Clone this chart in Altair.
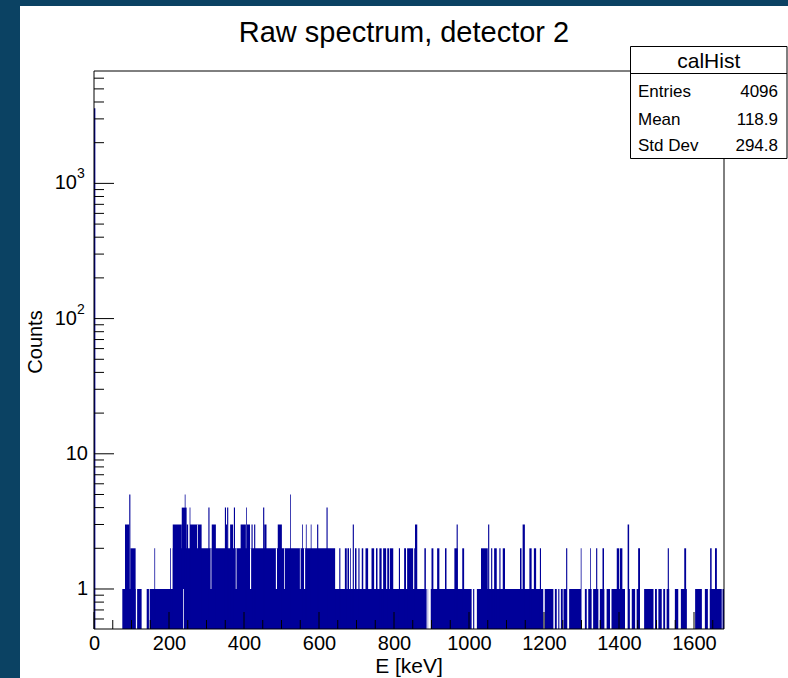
import altair as alt
import pandas as pd

# ---------------- data ----------------
X_MAX = 1680.0
Y_MIN, Y_MAX = 0.506, 6780.0

# channel at zero (big spike)
zero_start = [0.0]
zero_end = [3.6]
zero_count = [3600]

# count = 1 regions
lvl1_start = [75.5, 115, 140.5, 148.5]
lvl1_end = [111, 127, 146.5, 1680]

# count = 2 regions
lvl2_start = [97, 161, 203, 210, 654, 669, 676, 683, 696, 705, 714, 724, 740, 752, 761, 771,
              782, 789, 813, 827, 835, 854, 881, 900, 915, 936, 961, 982, 1032, 1059, 1067,
              1081, 1090, 1136, 1161, 1173, 1189, 1259, 1298, 1323, 1339, 1356, 1394, 1402,
              1451, 1530, 1574, 1643, 1656]
lvl2_end = [111, 163, 205, 643, 657, 674, 680, 685, 700, 708, 718, 731, 747, 756, 767, 779,
            787, 798, 816, 832, 851, 859, 885, 905, 921, 940, 970, 987, 1050, 1062, 1074,
            1084, 1096, 1140, 1167, 1179, 1192, 1262, 1300, 1325, 1342, 1360, 1400, 1409,
            1456, 1533, 1579, 1647, 1661]

# count = 3 regions
lvl3_start = [82.7, 210, 247, 256, 314, 352, 363, 391, 408, 420, 427, 454, 490, 555, 565,
              578, 595, 690, 856, 967, 1051, 1143, 1423]
lvl3_end = [94, 234, 251, 287, 325, 355, 371, 405, 416, 423, 430, 460, 501, 557, 567,
            580, 598, 693, 862, 970, 1054, 1149, 1427]

# count = 4 regions
lvl4_start = [234, 255, 305, 349, 355, 373, 406, 451, 620]
lvl4_end = [247, 257, 308, 352, 358, 376, 408, 454, 623]

# count = 5 regions
lvl5_start = [94, 242, 523]
lvl5_end = [97, 244, 525]

# empty / lower channels inside filled regions: start, end, upper count, lower count
gap_start = [275, 311, 378, 416, 485, 507, 549, 560, 238,
             887, 891, 1007, 1014, 1198, 1225, 1234, 1241, 1250, 1262, 1300, 1314, 1327,
             1345, 1361, 1376, 1416, 1429, 1443, 1456, 1492, 1501, 1514, 1523, 1534, 1558,
             1581, 1621, 1637, 1674]
gap_end = [277, 313, 380, 419, 488, 509, 551, 563, 240,
           890, 898, 1011, 1021, 1202, 1229, 1238, 1245, 1252, 1267, 1309, 1318, 1331,
           1349, 1367, 1380, 1423, 1434, 1447, 1467, 1496, 1505, 1518, 1527, 1549, 1565,
           1603, 1629, 1642, 1676]
gap_top = [3, 2, 2, 2, 2, 2, 2, 2, 1] + [1] * 30
gap_bottom = [2, 1, 1, 1, 1, 1, 1, 1, Y_MIN] + [Y_MIN] * 30

# axis ticks / labels
x_major = [0, 200, 400, 600, 800, 1000, 1200, 1400, 1600]
x_minor = [50, 100, 150, 250, 300, 350, 450, 500, 550, 650, 700, 750, 850, 900, 950,
           1050, 1100, 1150, 1250, 1300, 1350, 1450, 1500, 1550, 1650]
y_major = [1, 10, 100, 1000]
y_minor = [0.6, 0.7, 0.8, 0.9, 2, 3, 4, 5, 6, 7, 8, 9, 20, 30, 40, 50, 60, 70, 80, 90,
           200, 300, 400, 500, 600, 700, 800, 900, 2000, 3000, 4000, 5000, 6000]
y_label_base = ["1", "10", "10", "10"]
y_label_exp = ["", "", "2", "3"]

title_text = "Raw spectrum, detector 2"
x_title = "E [keV]"
y_title = "Counts"
stat_header = "calHist"
stat_names = ["Entries", "Mean", "Std Dev"]
stat_values = ["4096", "118.9", "294.8"]

# ---------------- build tables ----------------
rows = []
for s, e in zip(lvl1_start, lvl1_end):
    rows.append((s, e, 1))
for s, e in zip(lvl2_start, lvl2_end):
    rows.append((s, e, 2))
for s, e in zip(lvl3_start, lvl3_end):
    rows.append((s, e, 3))
for s, e in zip(lvl4_start, lvl4_end):
    rows.append((s, e, 4))
for s, e in zip(lvl5_start, lvl5_end):
    rows.append((s, e, 5))
for s, e, c in zip(zero_start, zero_end, zero_count):
    rows.append((s, e, c))
bars_df = pd.DataFrame(rows, columns=["start", "end", "count"])
bars_df["order"] = range(len(bars_df))

gaps_df = pd.DataFrame({"start": gap_start, "end": gap_end, "top": gap_top, "bottom": gap_bottom})

W, H = 630, 558
FONT = "Liberation Sans"
BLUE = "#000099"

xs = alt.Scale(domain=[0, X_MAX], nice=False, zero=False)
ys = alt.Scale(type="log", domain=[Y_MIN, Y_MAX], nice=False)

one = pd.DataFrame({"a": [0]})

canvas = alt.Chart(one).mark_rect(fill="white").encode(
    x=alt.value(-74), x2=alt.value(W + 70), y=alt.value(-65), y2=alt.value(H + 60))

bars = alt.Chart(bars_df).mark_rect(fill=BLUE, clip=True).encode(
    x=alt.X("start:Q", scale=xs, title="",
            axis=alt.Axis(values=x_major, labelFontSize=20, labelFont=FONT, labelColor="black",
                          ticks=False, domain=False, grid=False, labelPadding=4,
                          labelFlush=False, labelOverlap=False, format="d", zindex=2)),
    x2="end:Q",
    y=alt.Y("count:Q", scale=ys, axis=None),
    y2=alt.value(H),
    order="order:Q",
)

gaps = alt.Chart(gaps_df).mark_rect(fill="white", clip=True).encode(
    x=alt.X("start:Q", scale=xs), x2="end:Q",
    y=alt.Y("top:Q", scale=ys, axis=None), y2="bottom:Q")

xmaj = alt.Chart(pd.DataFrame({"v": x_major})).mark_rule(color="black").encode(
    x=alt.X("v:Q", scale=xs), y=alt.value(H), y2=alt.value(H - 17))
xmin = alt.Chart(pd.DataFrame({"v": x_minor})).mark_rule(color="black").encode(
    x=alt.X("v:Q", scale=xs), y=alt.value(H), y2=alt.value(H - 9))
ymaj = alt.Chart(pd.DataFrame({"v": y_major})).mark_rule(color="black").encode(
    y=alt.Y("v:Q", scale=ys, axis=None), x=alt.value(0), x2=alt.value(20))
ymin = alt.Chart(pd.DataFrame({"v": y_minor})).mark_rule(color="black").encode(
    y=alt.Y("v:Q", scale=ys, axis=None), x=alt.value(0), x2=alt.value(10))

frame = alt.Chart(one).mark_rect(filled=False, stroke="black", strokeWidth=1).encode(
    x=alt.value(0), x2=alt.value(W), y=alt.value(0), y2=alt.value(H))

ylab_df = pd.DataFrame({"v": y_major, "base": y_label_base, "exp": y_label_exp})
ylab_plain = alt.Chart(ylab_df).transform_filter("datum.exp == ''").mark_text(
    align="right", baseline="middle", font=FONT, fontSize=20, color="black").encode(
    y=alt.Y("v:Q", scale=ys, axis=None), x=alt.value(-6), text="base:N")
ylab_base = alt.Chart(ylab_df).transform_filter("datum.exp != ''").mark_text(
    align="right", baseline="middle", font=FONT, fontSize=20, color="black").encode(
    y=alt.Y("v:Q", scale=ys, axis=None), x=alt.value(-17), text="base:N")
ylab_exp = alt.Chart(ylab_df).transform_filter("datum.exp != ''").mark_text(
    align="left", baseline="middle", font=FONT, fontSize=14, color="black", dy=-9).encode(
    y=alt.Y("v:Q", scale=ys, axis=None), x=alt.value(-17), text="exp:N")

title = alt.Chart(one).mark_text(text=title_text, font=FONT, fontSize=29, align="center",
                                 baseline="alphabetic", color="black").encode(
    x=alt.value(310), y=alt.value(-29))
xtitle = alt.Chart(one).mark_text(text=x_title, font=FONT, fontSize=21, align="center",
                                  baseline="alphabetic", color="black").encode(
    x=alt.value(W / 2), y=alt.value(602))
ytitle = alt.Chart(one).mark_text(text=y_title, font=FONT, fontSize=20, align="center",
                                  baseline="alphabetic", angle=270, color="black").encode(
    x=alt.value(-52), y=alt.value(H / 2 - 8))

BX0, BX1, BY0, BY1 = 536.5, 693, -24.5, 87.5
statbox = alt.Chart(one).mark_rect(fill="white", stroke="black", strokeWidth=1).encode(
    x=alt.value(BX0), x2=alt.value(BX1), y=alt.value(BY0), y2=alt.value(BY1))
statline = alt.Chart(one).mark_rule(color="black").encode(
    x=alt.value(BX0), x2=alt.value(BX1), y=alt.value(2.5))
stathead = alt.Chart(one).mark_text(text=stat_header, font=FONT, fontSize=21, align="center",
                                    baseline="alphabetic", color="black").encode(
    x=alt.value((BX0 + BX1) / 2), y=alt.value(-3))
stat_layers = []
row_y = [26, 54, 80]
for i, (n, v) in enumerate(zip(stat_names, stat_values)):
    stat_layers.append(alt.Chart(one).mark_text(text=n, font=FONT, fontSize=17, align="left",
                                                baseline="alphabetic", color="black").encode(
        x=alt.value(544), y=alt.value(row_y[i])))
    stat_layers.append(alt.Chart(one).mark_text(text=v, font=FONT, fontSize=17, align="right",
                                                baseline="alphabetic", color="black").encode(
        x=alt.value(684), y=alt.value(row_y[i])))

chart = alt.layer(canvas, bars, gaps, xmaj, xmin, ymaj, ymin, frame,
                  ylab_plain, ylab_base, ylab_exp, title, xtitle, ytitle,
                  statbox, statline, stathead, *stat_layers).properties(
    width=W, height=H, autosize="none",
    padding={"left": 94, "top": 71, "right": 64, "bottom": 49},
    background="#0b4263",
).configure_view(strokeWidth=0)

chart.save("out.html", embed_options={"renderer": "svg", "actions": False})
